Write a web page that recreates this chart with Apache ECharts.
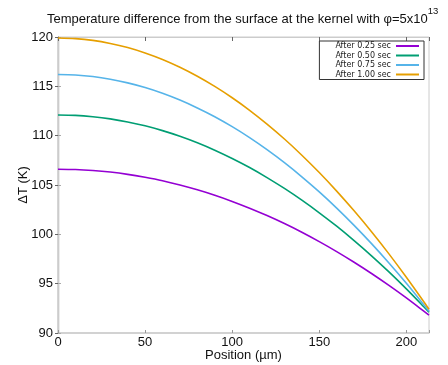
<!DOCTYPE html>
<html>
<head>
<meta charset="utf-8">
<script src="https://cdn.jsdelivr.net/npm/echarts@6/dist/echarts.min.js"></script>
<style>html,body{margin:0;padding:0;background:#fff}#c{width:448px;height:365px}</style>
</head>
<body>
<div id="c"></div>
<script>
// Data
const positions = [0,10,20,30,40,50,60,70,80,90,100,110,120,130,140,150,160,170,180,190,200,210,213];
const seriesNames = ['After 0.25 sec','After 0.50 sec','After 0.75 sec','After 1.00 sec'];
const dT_025 = [106.6,106.57,106.47,106.31,106.08,105.78,105.43,105.0,104.51,103.96,103.34,102.65,101.9,101.09,100.21,99.26,98.25,97.17,96.03,94.82,93.55,92.21,91.8];
const dT_050 = [112.1,112.06,111.92,111.7,111.39,111.0,110.51,109.94,109.28,108.53,107.69,106.77,105.75,104.65,103.46,102.18,100.82,99.36,97.82,96.19,94.47,92.66,92.1];
const dT_075 = [116.2,116.15,115.99,115.72,115.35,114.88,114.3,113.61,112.81,111.92,110.91,109.8,108.58,107.26,105.83,104.3,102.66,100.91,99.06,97.1,95.04,92.87,92.2];
const dT_100 = [119.9,119.84,119.66,119.35,118.93,118.38,117.72,116.93,116.02,114.99,113.84,112.57,111.17,109.66,108.02,106.26,104.38,102.38,100.26,98.02,95.65,93.17,92.4];
const xTicks = [0,50,100,150,200];
const yTicks = [90,95,100,105,110,115,120];

const colors = ['#9400d3','#009e73','#56b4e9','#e69f00'];
const allData = [dT_025, dT_050, dT_075, dT_100];

const chart = echarts.init(document.getElementById('c'));
const font = 'Liberation Sans, Arial, sans-serif';
chart.setOption({
  animation: false,
  backgroundColor: '#fff',
  title: {
    text: '{a|Temperature difference from the surface at the kernel with φ=5x10}{s|13}',
    left: 42, top: 1,
    textStyle: {
      fontWeight: 'normal',
      rich: {
        a: {fontFamily: font, fontSize: 13, fontWeight: 'normal', color: '#111', lineHeight: 20, verticalAlign: 'bottom'},
        s: {fontFamily: font, fontSize: 9.5, fontWeight: 'normal', color: '#111', lineHeight: 15, verticalAlign: 'top'}
      }
    }
  },
  legend: {
    orient: 'vertical', right: 24, top: 41,
    align: 'right',
    padding: [1, 5, 1, 16],
    itemGap: 1.5, itemWidth: 23, itemHeight: 2,
    icon: 'rect',
    borderColor: '#333', borderWidth: 1, borderRadius: 0,
    textStyle: {fontFamily: 'DejaVu Sans', fontSize: 8, color: '#222', lineHeight: 8},
    data: seriesNames
  },
  grid: {left: 58, right: 19, top: 37, bottom: 32, outerBoundsMode: 'none', show: true, borderColor: '#ccc', borderWidth: 1},
  xAxis: [{
    type: 'value', min: 0, max: 213, interval: 50,
    name: 'Position (µm)', nameLocation: 'middle', nameGap: 16, nameMoveOverlap: false,
    nameTextStyle: {fontFamily: font, fontSize: 13, color: '#111'},
    axisLine: {show: true, lineStyle: {color: '#ccc', width: 1.5}},
    axisTick: {show: true, inside: true, length: 3, lineStyle: {color: '#999'}},
    splitLine: {show: false},
    axisLabel: {fontFamily: font, fontSize: 13, color: '#111', margin: 3,
      formatter: v => xTicks.includes(v) ? String(v) : ''}
  }, {
    type: 'value', min: 0, max: 213, interval: 50, position: 'top',
    axisLine: {show: true, lineStyle: {color: '#ccc'}},
    axisTick: {show: true, inside: true, length: 4, lineStyle: {color: '#666'}},
    axisLabel: {show: false}, splitLine: {show: false}
  }],
  yAxis: [{
    type: 'value', min: 90, max: 120, interval: 5,
    name: 'ΔT (K)', nameLocation: 'middle', nameGap: 28, nameMoveOverlap: false,
    nameTextStyle: {fontFamily: font, fontSize: 13, color: '#111'},
    axisLine: {show: true, lineStyle: {color: '#444', width: 1.2}},
    axisTick: {show: true, inside: true, length: 3, lineStyle: {color: '#aaa'}},
    splitLine: {show: false},
    axisLabel: {fontFamily: font, fontSize: 13, color: '#111', margin: 5,
      formatter: v => yTicks.includes(v) ? String(v) : ''}
  }, {
    type: 'value', min: 90, max: 120, interval: 5, position: 'right',
    axisLine: {show: true, lineStyle: {color: '#ccc'}},
    axisTick: {show: true, inside: true, length: 3, lineStyle: {color: '#666'}},
    axisLabel: {show: false}, splitLine: {show: false}
  }],
  series: seriesNames.map((n, i) => ({
    name: n, type: 'line', xAxisIndex: 0, yAxisIndex: 0,
    showSymbol: false, symbol: 'none', smooth: 0.3,
    itemStyle: {color: colors[i]},
    lineStyle: {color: colors[i], width: 1.6},
    data: positions.map((x, j) => [x, allData[i][j]])
  }))
});
</script>
</body>
</html>
